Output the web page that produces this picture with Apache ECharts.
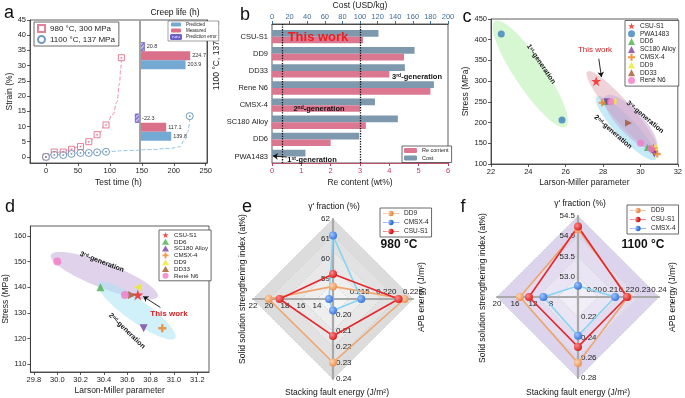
<!DOCTYPE html>
<html>
<head>
<meta charset="utf-8">
<script src="https://cdn.jsdelivr.net/npm/echarts@6/dist/echarts.min.js"></script>
<style>html,body{margin:0;padding:0;background:#fff}#main{width:685px;height:398px}</style>
</head>
<body>
<div id="main"></div>
<script>
const FONT = '"Liberation Sans", Arial, sans-serif';

// a: creep curves
const timeTicks = [0, 50, 100, 150, 200, 250];
const strainTicks = [0, 5, 10, 15, 20, 25, 30, 35, 40, 45];
const t980 = [0, 13, 27, 40, 54, 67, 80, 94, 118];
const s980 = [0, 1.6, 1.6, 2.5, 3.4, 5.0, 7.3, 10.5, 32.6];
const t1100 = [0, 13, 27, 40, 54, 67, 80, 94, 225];
const s1100 = [0, 0.7, 0.6, 1.0, 1.3, 1.3, 1.5, 1.7, 13.4];
const fitT980 = [0, 13, 27, 40, 54, 67, 80, 94, 105, 111, 115, 117, 118];
const fitS980 = [0, 1.2, 1.9, 2.6, 3.6, 5.0, 7.2, 10.4, 14, 18, 24, 29, 32.6];
const fitT1100 = [0, 13, 27, 40, 54, 67, 80, 94, 130, 162, 194, 209, 217, 222, 225];
const fitS1100 = [0, 0.6, 0.9, 1.1, 1.3, 1.45, 1.6, 1.75, 2.1, 2.4, 2.8, 3.3, 5.5, 8.2, 13.4];

// a: creep life bars
const lifeCats = ['1100 °C, 137 MPa', '980 °C, 300 MPa'];
const lifePredicted = [203.9, 139.8];
const lifeMeasured = [224.7, 117.1];
const lifeError = [20.8, -22.3];

// b: cost and Re content
const alloysB = ['CSU-S1', 'DD9', 'DD33', 'Rene N6', 'CMSX-4', 'SC180 Alloy', 'DD6', 'PWA1483'];
const costB = [121, 162, 151, 184, 117, 143, 99, 38];
const reB = [3.1, 4.5, 4.0, 5.4, 3.0, 3.2, 2.0, 0];

// c: Larson-Miller, all alloys
const csuC = [[27.63, 300], [30.69, 137]];
const pwaC = [[22.55, 414], [25.8, 206]];
const dd6C = [[28.14, 251], [30.37, 140]];
const sc180C = [[28.2, 250], [30.74, 124]];
const cmsxC = [[27.95, 248], [30.9, 124]];
const dd9C = [[28.53, 251], [30.69, 140]];
const dd33C = [[29.36, 199], [30.64, 137]];
const reneC = [[28.41, 250], [30.0, 150], [30.58, 137]];

// d: Larson-Miller, 1100 °C cluster
const dTicksX = [29.8, 30.0, 30.2, 30.4, 30.6, 30.8, 31.0, 31.2];
const dTicksY = [110, 120, 130, 140, 150, 160];
const csuD = [[30.69, 137]];
const dd6D = [[30.37, 140]];
const sc180D = [[30.74, 124]];
const cmsxD = [[30.9, 124]];
const dd9D = [[30.69, 140]];
const dd33D = [[30.64, 137]];
const reneD = [[30.0, 150], [30.58, 137]];

// generation ellipses: major axis ends (data) + half width (px)
const ellC = [[22.2, 445, 26.0, 190, 15], [27.65, 262, 30.8, 111, 10], [27.16, 323, 30.89, 130, 10], [28.13, 264, 30.82, 138, 12]];
const ellCColors = ['rgba(175,238,165,0.5)', 'rgba(140,215,242,0.5)', 'rgba(214,150,162,0.42)', 'rgba(196,165,216,0.5)'];
const ellD = [[29.945, 152.6, 30.86, 136.4, 12.5], [30.35, 141.6, 31.01, 120.1, 11]];
const ellDColors = ['rgba(205,180,222,0.6)', 'rgba(170,228,246,0.55)'];

// e / f radar: [γ' fraction, SSSI, SFE, APB]
const radarNames = ["γ' fraction", 'SSSI', 'SFE', 'APB'];
const minE = [58, 12, 0.19, 0.21];
const maxE = [62, 22, 0.24, 0.225];
const dd9E = [58.63, 20.04, 0.2297, 0.2234];
const cmsxE = [61.17, 12.5, 0.1972, 0.2153];
const csuE = [59.25, 18.67, 0.2131, 0.2223];
const minF = [52.5, 2, 0.20, 0.19];
const maxF = [54.5, 20, 0.28, 0.24];
const dd9F = [54.18, 14.9, 0.2653, 0.2208];
const csuF = [54.24, 12.9, 0.2493, 0.2202];
const cmsxF = [52.78, 9.7, 0.2383, 0.2129];

const STAR = 'path://M50,0L61.2,34.5L97.6,34.5L68.2,55.9L79.4,90.5L50,69.1L20.6,90.5L31.8,55.9L2.4,34.5L38.8,34.5Z';
const PLUS = 'path://M35,0H65V35H100V65H65V100H35V65H0V35H35Z';
const LINEDOT = 'path://M0,4.3H30V5.7H0Z M15,0A5,5,0,1,1,14.99,0Z';

const pts = (xs, ys) => xs.map((x, i) => [x, ys[i]]);
const axTxt = { fontFamily: FONT, fontSize: 7.5, color: '#222' };
const nmTxt = { fontFamily: FONT, fontSize: 8.5, color: '#222' };
const blk = { onZero: false, lineStyle: { color: '#333', width: 0.8 } };
const tick = { length: 3, lineStyle: { color: '#333', width: 0.8 } };

function ball(light, dark) {
  return { type: 'radial', x: 0.35, y: 0.35, r: 0.75, colorStops: [{ offset: 0, color: light }, { offset: 1, color: dark }] };
}

function gText(x, y, text, style, rot) {
  return {
    type: 'text', x: x, y: y, rotation: rot || 0, silent: true, z: 50,
    style: Object.assign({ text: text, fontFamily: FONT, fontSize: 8, fill: '#111', align: 'center', verticalAlign: 'middle' }, style || {})
  };
}
const genRich = {
  n: { fontFamily: FONT, fontSize: 7.5, fontWeight: 'bold', fill: '#111' },
  s: { fontFamily: FONT, fontSize: 5, fontWeight: 'bold', fill: '#111', verticalAlign: 'top', lineHeight: 6 }
};
function genText(x, y, num, sup, rot, size) {
  const rich = JSON.parse(JSON.stringify(genRich));
  if (size) { rich.n.fontSize = size; rich.s.fontSize = size * 0.65; }
  return gText(x, y, '{n|' + num + '}{s|' + sup + '}{n|-generation}', { rich: rich }, rot);
}

function ellipseRender(colors) {
  return function (params, api) {
    const p1 = api.coord([api.value(0), api.value(1)]);
    const p2 = api.coord([api.value(2), api.value(3)]);
    const b = api.value(4);
    const cx = (p1[0] + p2[0]) / 2, cy = (p1[1] + p2[1]) / 2;
    const a = Math.hypot(p2[0] - p1[0], p2[1] - p1[1]) / 2;
    const ang = Math.atan2(p2[1] - p1[1], p2[0] - p1[0]);
    const poly = [];
    for (let k = 0; k < 72; k++) {
      const t = k / 72 * Math.PI * 2;
      const ex = a * Math.cos(t), ey = b * Math.sin(t);
      poly.push([cx + ex * Math.cos(ang) - ey * Math.sin(ang), cy + ex * Math.sin(ang) + ey * Math.cos(ang)]);
    }
    return { type: 'polygon', shape: { points: poly }, style: { fill: colors[params.dataIndex] } };
  };
}

function radarCfg(center, radius, split, mins, maxs, fmts, labelIdx, areaColors) {
  const main = !!areaColors;
  return {
    center: center, radius: radius, shape: 'polygon', startAngle: 90, splitNumber: split,
    indicator: mins.map((m, i) => ({
      name: radarNames[i], min: m, max: maxs[i],
      axisLabel: { show: labelIdx.indexOf(i) >= 0, formatter: fmts[i] }
    })),
    axisName: { show: false },
    axisLine: main ? { lineStyle: { color: '#a9a9a9', width: 2.2 } } : { show: false },
    splitLine: main ? { lineStyle: { color: '#c4c4c4', width: 0.6, type: 'dashed' } } : { show: false },
    splitArea: main ? { areaStyle: { color: areaColors } } : { show: false },
    axisTick: { show: false },
    axisLabel: { show: false, showMinLabel: false, fontSize: 8, color: '#222', fontFamily: FONT, margin: 3 },
    silent: true
  };
}
const fInt = v => String(Math.round(v));
const f1 = v => v.toFixed(1);
const f2 = v => v.toFixed(2);
const f3 = v => v.toFixed(3);
const fBy4 = v => (Math.round(v) % 4 === 0 && v > 6 ? String(Math.round(v)) : '');

const alloyStyles = [
  { name: 'CSU-S1', c: csuC, d: csuD, color: '#f0201c', symbol: STAR, size: 10, rot: 0 },
  { name: 'PWA1483', c: pwaC, d: null, color: '#3d7fc0', symbol: 'circle', size: 7, rot: 0 },
  { name: 'DD6', c: dd6C, d: dd6D, color: '#4cb04c', symbol: 'triangle', size: 7, rot: 0 },
  { name: 'SC180 Alloy', c: sc180C, d: sc180D, color: '#7d3f9e', symbol: 'triangle', size: 7, rot: 180 },
  { name: 'CMSX-4', c: cmsxC, d: cmsxD, color: '#f07f1a', symbol: PLUS, size: 7, rot: 0 },
  { name: 'DD9', c: dd9C, d: dd9D, color: '#eeea2a', symbol: 'triangle', size: 7, rot: 90 },
  { name: 'DD33', c: dd33C, d: dd33D, color: '#a5582c', symbol: 'triangle', size: 7, rot: -90 },
  { name: 'René N6', c: reneC, d: reneD, color: '#f27cc8', symbol: 'circle', size: 7, rot: 0 }
];

const series = [
  { type: 'line', xAxisIndex: 0, yAxisIndex: 0, data: pts(fitT980, fitS980), smooth: true, smoothMonotone: 'x', symbol: 'none', lineStyle: { color: '#ee8ea6', width: 1, type: 'dashed' }, z: 3 },
  { type: 'line', xAxisIndex: 0, yAxisIndex: 0, data: pts(fitT1100, fitS1100), smooth: true, smoothMonotone: 'x', symbol: 'none', lineStyle: { color: '#8fc3e6', width: 1, type: 'dashed' }, z: 3 },
  { type: 'scatter', name: '980 °C, 300 MPa', xAxisIndex: 0, yAxisIndex: 0, data: pts(t980, s980), symbol: 'rect', symbolSize: 6, itemStyle: { color: '#fff', borderColor: '#e0607e', borderWidth: 1 }, z: 4 },
  { type: 'scatter', xAxisIndex: 0, yAxisIndex: 0, data: pts(t980, s980), symbol: 'rect', symbolSize: 1.6, itemStyle: { color: '#e0607e' }, z: 5, silent: true },
  { type: 'scatter', name: '1100 °C, 137 MPa', xAxisIndex: 0, yAxisIndex: 0, data: pts(t1100, s1100), symbol: 'circle', symbolSize: 7, itemStyle: { color: '#fff', borderColor: '#4f7fab', borderWidth: 1 }, z: 4 },
  { type: 'scatter', xAxisIndex: 0, yAxisIndex: 0, data: pts(t1100, s1100), symbol: 'circle', symbolSize: 1.8, itemStyle: { color: '#4f7fab' }, z: 5, silent: true },
  {
    type: 'bar', name: 'Prediction error', xAxisIndex: 1, yAxisIndex: 1, data: lifeError, barWidth: 9, barGap: '0%',
    itemStyle: { color: '#bdb4ee', borderColor: '#6c5fc7', borderWidth: 0.5, decal: { symbol: 'rect', symbolSize: 1, dashArrayX: [1, 0], dashArrayY: [1, 2], rotation: -Math.PI / 4, color: '#6f62cc' } },
    label: { show: true, position: 'right', distance: 2, fontSize: 5.5, color: '#333', fontFamily: FONT },
    markLine: { silent: true, symbol: 'none', label: { show: false }, lineStyle: { color: '#a2a2a2', width: 2, type: 'solid' }, data: [{ xAxis: 0 }] },
    z: 3
  },
  { type: 'bar', name: 'Measured', xAxisIndex: 1, yAxisIndex: 1, data: lifeMeasured, barWidth: 9, barGap: '0%', itemStyle: { color: '#da7089' }, label: { show: true, position: 'right', distance: 2, fontSize: 5.5, color: '#333', fontFamily: FONT }, z: 3 },
  { type: 'bar', name: 'Predicted', xAxisIndex: 1, yAxisIndex: 1, data: lifePredicted, barWidth: 9, barGap: '0%', itemStyle: { color: '#74a9d3' }, label: { show: true, position: 'right', distance: 2, fontSize: 5.5, color: '#333', fontFamily: FONT }, z: 3 },
  { type: 'bar', name: 'Cost', xAxisIndex: 4, yAxisIndex: 3, data: costB, barWidth: 6.7, barGap: '0%', itemStyle: { color: '#7e98ae' }, z: 3 },
  { type: 'bar', name: 'Re content', xAxisIndex: 5, yAxisIndex: 3, data: reB, barWidth: 6.7, barGap: '0%', itemStyle: { color: '#db7790' }, z: 3 },
  {
    type: 'line', xAxisIndex: 3, yAxisIndex: 2, data: [], z: 6,
    markLine: {
      silent: true, symbol: 'none', label: { show: false },
      lineStyle: { color: '#111', type: 'dotted', width: 1.3 },
      data: [
        { xAxis: 0.35 }, { xAxis: 3 },
        [{ coord: [0.51, 0.043], symbol: 'none', lineStyle: { type: 'solid', width: 0.9 } }, { coord: [0.03, 0.05], symbol: 'arrow', symbolSize: 5, lineStyle: { type: 'solid', width: 0.9 } }]
      ]
    }
  },
  { type: 'custom', xAxisIndex: 6, yAxisIndex: 4, data: ellC, renderItem: ellipseRender(ellCColors), encode: { x: [0, 2], y: [1, 3] }, z: 1, silent: true },
  { type: 'custom', xAxisIndex: 7, yAxisIndex: 5, data: ellD, renderItem: ellipseRender(ellDColors), encode: { x: [0, 2], y: [1, 3] }, z: 1, silent: true }
];

alloyStyles.forEach(function (a) {
  const base = { type: 'scatter', name: a.name, symbol: a.symbol, symbolRotate: a.rot, itemStyle: { color: a.color }, z: 4 };
  series.push(Object.assign({}, base, { xAxisIndex: 6, yAxisIndex: 4, data: a.c, symbolSize: a.size }));
  if (a.d) series.push(Object.assign({}, base, { xAxisIndex: 7, yAxisIndex: 5, data: a.d, symbolSize: a.size + 1 }));
});

// arrows to "This work"
series.push({
  type: 'line', xAxisIndex: 6, yAxisIndex: 4, data: [], z: 6,
  markLine: { silent: true, label: { show: false }, symbol: ['none', 'arrow'], symbolSize: 5, lineStyle: { color: '#111', width: 0.9, type: 'solid' }, data: [[{ coord: [27.77, 354] }, { coord: [27.91, 310] }]] }
});
series.push({
  type: 'line', xAxisIndex: 7, yAxisIndex: 5, data: [], z: 6,
  markLine: { silent: true, label: { show: false }, symbol: ['none', 'arrow'], symbolSize: 5, lineStyle: { color: '#111', width: 0.9, type: 'solid' }, data: [[{ coord: [30.883, 132.1] }, { coord: [30.737, 136.4] }]] }
});

// radar series
function radarSeries(idx, name, vals, lineColor, light, dark) {
  return { type: 'radar', radarIndex: idx, name: name, symbol: 'circle', symbolSize: 8, lineStyle: { color: lineColor, width: 1.6 }, itemStyle: { color: ball(light, dark) }, data: [{ value: vals }], z: 3 };
}
series.push(radarSeries(0, 'DD9\u200b', dd9E, '#f0a46c', '#fcd6b4', '#e88a48'));
series.push(radarSeries(0, 'CMSX-4\u200b', cmsxE, '#86d4f2', '#9cc4ff', '#2f6fd6'));
series.push(radarSeries(0, 'CSU-S1\u200b', csuE, '#e8262a', '#ff8a8a', '#d41414'));
series.push(radarSeries(3, 'DD9\u200b\u200b', dd9F, '#f0a46c', '#fcd6b4', '#e88a48'));
series.push(radarSeries(3, 'CMSX-4\u200b\u200b', cmsxF, '#86d4f2', '#9cc4ff', '#2f6fd6'));
series.push(radarSeries(3, 'CSU-S1\u200b\u200b', csuF, '#e8262a', '#ff8a8a', '#d41414'));

const legendBase = { orient: 'vertical', selectedMode: false, borderColor: '#444', borderWidth: 0.8, backgroundColor: '#fff', z: 20 };
function legend(o, fontSize) {
  return Object.assign({}, legendBase, o, { textStyle: { fontFamily: FONT, fontSize: fontSize, color: '#222' } });
}

const grey = ['#f4f4f4', '#eeeeee', '#e8e8e8', '#e2e2e2', '#dcdcdc'];
const lav = ['#f1eef8', '#eae5f4', '#e3dcf0', '#dcd3ec'];

const option = {
  animation: false,
  textStyle: { fontFamily: FONT },
  grid: [
    { left: 30, top: 20, width: 177, height: 143, show: true, borderColor: '#333', borderWidth: 0.8 },
    { left: 130, top: 20, width: 77, height: 143 },
    { left: 272, top: 23, width: 176, height: 140, show: true, borderColor: '#333', borderWidth: 0.8 },
    { left: 272, top: 28.1, width: 176, height: 137 },
    { left: 491, top: 19, width: 189, height: 145, show: true, borderColor: '#333', borderWidth: 0.8 },
    { left: 26, top: 226, width: 183, height: 146, show: true, borderColor: '#333', borderWidth: 0.8 }
  ],
  xAxis: [
    { gridIndex: 0, type: 'value', min: -25, max: 252, axisLine: blk, axisTick: Object.assign({ customValues: timeTicks }, tick), axisLabel: Object.assign({ customValues: timeTicks, margin: 4 }, axTxt), splitLine: { show: false }, name: 'Test time (h)', nameLocation: 'middle', nameGap: 15, nameTextStyle: nmTxt },
    { gridIndex: 1, type: 'value', min: -45, max: 300, show: false },
    { gridIndex: 2, type: 'value', position: 'top', min: 0, max: 200, interval: 20, axisLine: { onZero: false, lineStyle: { color: '#333', width: 0.8 } }, axisTick: { length: 3, lineStyle: { color: '#3f6d9b' } }, axisLabel: Object.assign({}, axTxt, { color: '#3f6d9b', margin: 3 }), splitLine: { show: false }, name: 'Cost (USD/kg)', nameLocation: 'middle', nameGap: 14, nameTextStyle: nmTxt },
    { gridIndex: 2, type: 'value', position: 'bottom', min: 0, max: 6, interval: 1, axisLine: { onZero: false, lineStyle: { color: '#c23a5e', width: 0.8 } }, axisTick: { length: 3, lineStyle: { color: '#c23a5e' } }, axisLabel: Object.assign({}, axTxt, { color: '#c23a5e', margin: 4 }), splitLine: { show: false }, name: 'Re content (wt%)', nameLocation: 'middle', nameGap: 15, nameTextStyle: nmTxt },
    { gridIndex: 3, type: 'value', min: 0, max: 200, show: false },
    { gridIndex: 3, type: 'value', min: 0, max: 6, show: false },
    { gridIndex: 4, type: 'value', min: 22, max: 32, interval: 2, axisLine: blk, axisTick: tick, axisLabel: Object.assign({ margin: 4 }, axTxt), splitLine: { show: false }, name: 'Larson-Miller parameter', nameLocation: 'middle', nameGap: 14, nameTextStyle: nmTxt },
    { gridIndex: 5, type: 'value', min: 29.77, max: 31.3, axisLine: blk, axisTick: Object.assign({ customValues: dTicksX }, tick), axisLabel: Object.assign({ customValues: dTicksX, formatter: f1, margin: 4 }, axTxt), splitLine: { show: false }, name: 'Larson-Miller parameter', nameLocation: 'middle', nameGap: 14, nameTextStyle: nmTxt }
  ],
  yAxis: [
    { gridIndex: 0, type: 'value', min: -2, max: 45, axisLine: blk, axisTick: Object.assign({ customValues: strainTicks }, tick), axisLabel: Object.assign({ customValues: strainTicks, margin: 4 }, axTxt), splitLine: { show: false }, name: 'Strain (%)', nameLocation: 'middle', nameGap: 15, nameTextStyle: nmTxt },
    { gridIndex: 1, type: 'category', data: lifeCats, inverse: true, position: 'right', axisLine: blk, axisTick: tick, axisLabel: Object.assign({}, axTxt, { rotate: 90, fontSize: 8.5, margin: 5 }) },
    { gridIndex: 2, type: 'value', min: 0, max: 1, show: false },
    { gridIndex: 3, type: 'category', data: alloysB, inverse: true, axisLine: { show: false, onZero: false }, axisTick: { alignWithLabel: true, length: 2.5, lineStyle: { color: '#333' } }, axisLabel: Object.assign({}, axTxt, { margin: 4 }) },
    { gridIndex: 4, type: 'value', min: 100, max: 450, interval: 50, axisLine: blk, axisTick: tick, axisLabel: Object.assign({ margin: 4 }, axTxt), splitLine: { show: false }, name: 'Stress (MPa)', nameLocation: 'middle', nameGap: 17, nameTextStyle: nmTxt },
    { gridIndex: 5, type: 'value', min: 106.9, max: 163.9, axisLine: blk, axisTick: Object.assign({ customValues: dTicksY }, tick), axisLabel: Object.assign({ customValues: dTicksY, margin: 4 }, axTxt), splitLine: { show: false }, name: 'Stress (MPa)', nameLocation: 'middle', nameGap: 15, nameTextStyle: nmTxt }
  ],
  radar: [
    radarCfg([333, 299], 80, 5, minE, maxE, [fInt, fInt, f2, f3], [1, 2], grey),
    radarCfg([333, 299], 80, 4, minE, maxE, [fInt, fInt, f2, f3], [0]),
    radarCfg([333, 299], 80, 3, minE, maxE, [fInt, fInt, f2, f3], [3]),
    radarCfg([578, 297], 81, 4, minF, maxF, [f1, fInt, f2, f2], [0, 2], lav),
    radarCfg([578, 297], 81, 5, minF, maxF, [f1, fInt, f2, f2], [3]),
    radarCfg([578, 297], 81, 9, minF, maxF, [f1, fBy4, f2, f2], [1])
  ],
  legend: [
    legend({ left: 34, top: 22, data: ['980 °C, 300 MPa', '1100 °C, 137 MPa'], itemWidth: 7, itemHeight: 7, itemGap: 2, padding: [2, 4, 2, 3] }, 8),
    legend({ left: 168, top: 21, data: ['Predicted', 'Measured', 'Prediction error'], itemWidth: 10, itemHeight: 4, itemGap: 1, padding: [1, 2, 1, 2], borderWidth: 0.5 }, 4.5),
    legend({ left: 402, top: 146, data: ['Re content', 'Cost'], itemWidth: 13, itemHeight: 5, itemGap: 1.5, padding: [1.5, 3, 1.5, 2] }, 5.5),
    legend({ left: 625, top: 20.5, data: alloyStyles.map(a => a.name), itemWidth: 7, itemHeight: 7, itemGap: 0.8, padding: [2, 3, 2, 3] }, 6.5),
    legend({ left: 159, top: 230, data: alloyStyles.filter(a => a.d).map(a => a.name), itemWidth: 7, itemHeight: 6, itemGap: 0.8, padding: [2, 3, 2, 3] }, 6.2),
    legend({ left: 380, top: 208, data: ['DD9\u200b', 'CMSX-4\u200b', 'CSU-S1\u200b'], icon: LINEDOT, itemWidth: 16, itemHeight: 6, itemGap: 2, padding: [2, 3, 2, 3] }, 6.5),
    legend({ left: 627, top: 205, data: ['DD9\u200b\u200b', 'CSU-S1\u200b\u200b', 'CMSX-4\u200b\u200b'], icon: LINEDOT, itemWidth: 16, itemHeight: 6, itemGap: 2, padding: [2, 3, 2, 3] }, 6.5)
  ],
  graphic: [
    gText(9, 13, 'a', { fontSize: 18 }),
    gText(245, 15, 'b', { fontSize: 18 }),
    gText(467, 17, 'c', { fontSize: 18 }),
    gText(10, 207, 'd', { fontSize: 18 }),
    gText(247, 207, 'e', { fontSize: 18 }),
    gText(463, 207, 'f', { fontSize: 18 }),
    gText(175, 13, 'Creep life (h)', { fontSize: 8.5 }),
    gText(318, 37, 'This work', { fontSize: 13, fontWeight: 'bold', fill: '#f01e1e' }),
    genText(417, 77, '3', 'rd', 0),
    genText(319, 109, '2', 'nd', 0),
    genText(312, 160, '1', 'st', 0),
    gText(595, 50, 'This work', { fontSize: 8, fill: '#d42020' }),
    genText(541, 64, '1', 'st', -56 * Math.PI / 180, 7),
    genText(645, 117, '3', 'rd', -40 * Math.PI / 180, 7),
    genText(613, 132, '2', 'nd', -41 * Math.PI / 180, 7),
    gText(169, 314, 'This work', { fontSize: 8, fontWeight: 'bold', fill: '#d42020' }),
    genText(102, 262, '3', 'rd', -21 * Math.PI / 180, 7),
    genText(127, 331, '2', 'nd', -44 * Math.PI / 180, 7),
    gText(334, 207, "γ' fraction (%)", { fontSize: 8.5 }),
    gText(243, 289, 'Solid solution strengthening index (at%)', { fontSize: 8.5 }, Math.PI / 2),
    gText(422, 297, 'APB energy (J/m²)', { fontSize: 8.5 }, Math.PI / 2),
    gText(337, 393, 'Stacking fault energy (J/m²)', { fontSize: 8.5 }),
    gText(399, 245, '980 °C', { fontSize: 12, fontWeight: 'bold' }),
    gText(580, 204, "γ' fraction (%)", { fontSize: 8.5 }),
    gText(483, 288, 'Solid solution strengthening index (at%)', { fontSize: 8.5 }, Math.PI / 2),
    gText(673, 297, 'APB energy (J/m²)', { fontSize: 8.5 }, Math.PI / 2),
    gText(578, 393, 'Stacking fault energy (J/m²)', { fontSize: 8.5 }),
    gText(643, 245, '1100 °C', { fontSize: 12, fontWeight: 'bold' })
  ],
  series: series
};

const chart = echarts.init(document.getElementById('main'));
chart.setOption(option);
</script>
</body>
</html>
